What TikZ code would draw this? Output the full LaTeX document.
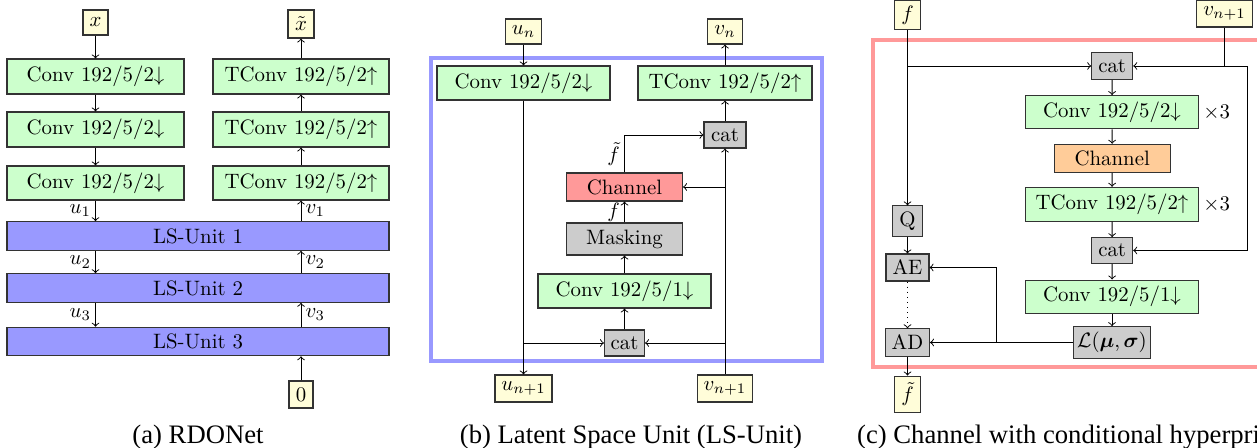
\documentclass[tikz,border=0pt]{standalone}
\usepackage{amsmath}
\usepackage{fontspec}
\newfontfamily\capfont{Liberation Serif}

% one drawing unit
\newdimen\pxu \pxu=0.48pt

\tikzset{
  box/.style={draw=black!80, line width=0.5pt, inner sep=0pt, anchor=center},
  sz/.style 2 args={minimum width=#1\pxu, minimum height=#2\pxu},
  io/.style={box, fill=yellow!15},
  convbox/.style={box, fill=green!20, sz={173}{34}},
  gbox/.style={box, fill=gray!40},
  lsbox/.style={box, fill=blue!40, sz={382}{28.5}},
  flow/.style={->, line width=0.45pt},
  lab/.style={inner sep=2pt},
  captxt/.style={inner sep=0pt, font=\capfont\fontsize{12.8}{15}\selectfont},
}

\begin{document}
\begin{tikzpicture}[x=0.48pt, y=-0.48pt]
\useasboundingbox (0,0) rectangle (1257,448);
\clip (0,0) rectangle (1257,448);

% ---------------- (a) RDONet ----------------
\node[io, sz={25}{25}] (xin) at (95.5,22.5) {$x$};
\node[io, sz={26}{28}] (xout) at (301,24) {$\tilde{x}$};
\node[convbox, sz={177}{35}] (c1) at (95.5,76.5) {Conv $192/5/2{\downarrow}$};
\node[convbox, sz={177}{35}] (c2) at (95.5,129.5) {Conv $192/5/2{\downarrow}$};
\node[convbox, sz={177}{34}] (c3) at (95.5,183) {Conv $192/5/2{\downarrow}$};
\node[convbox, sz={176}{35}] (t1) at (301,76.5) {TConv $192/5/2{\uparrow}$};
\node[convbox, sz={176}{35}] (t2) at (301,129.5) {TConv $192/5/2{\uparrow}$};
\node[convbox, sz={176}{34}] (t3) at (301,183) {TConv $192/5/2{\uparrow}$};
\node[lsbox] (ls1) at (198,236) {LS-Unit 1};
\node[lsbox] (ls2) at (198,288) {LS-Unit 2};
\node[lsbox] (ls3) at (198,341.5) {LS-Unit 3};
\node[io, sz={24}{27}] (zero) at (301,394.5) {$0$};

\draw[flow] (xin) -- (c1);
\draw[flow] (c1) -- (c2);
\draw[flow] (c2) -- (c3);
\draw[flow] (c3.south) -- node[lab, left] {$u_1$} (c3.south |- ls1.north);
\draw[flow] (c3.south |- ls1.south) -- node[lab, left] {$u_2$} (c3.south |- ls2.north);
\draw[flow] (c3.south |- ls2.south) -- node[lab, left] {$u_3$} (c3.south |- ls3.north);
\draw[flow] (zero) -- (zero.north |- ls3.south);
\draw[flow] (zero.north |- ls3.north) -- node[lab, right] {$v_3$} (zero.north |- ls2.south);
\draw[flow] (zero.north |- ls2.north) -- node[lab, right] {$v_2$} (zero.north |- ls1.south);
\draw[flow] (zero.north |- ls1.north) -- node[lab, right] {$v_1$} (t3.south);
\draw[flow] (t3) -- (t2);
\draw[flow] (t2) -- (t1);
\draw[flow] (t1) -- (xout);

\node[captxt] (capa) at (198,437) {(a) RDONet};

% ---------------- (b) LS-Unit ----------------
\draw[blue!40, line width=4\pxu] (431,57.7) rectangle (822,360.7);
\node[io, sz={36}{25}] (un) at (523.5,31.5) {$u_n$};
\node[io, sz={35}{25}] (vn) at (725,31.5) {$v_n$};
\node[convbox] (bconv) at (523.5,83) {Conv $192/5/2{\downarrow}$};
\node[convbox, sz={174}{34}] (btconv) at (725,83) {TConv $192/5/2{\uparrow}$};
\node[gbox, sz={42}{26}] (bcat1) at (725,135) {cat};
\node[box, fill=red!40, sz={116}{28}] (chan) at (624.5,187) {Channel};
\node[gbox, sz={116}{32}] (mask) at (624.5,239) {Masking};
\node[convbox] (bconv1) at (624.5,291) {Conv $192/5/1{\downarrow}$};
\node[gbox, sz={40}{26}] (bcat2) at (624.5,343) {cat};
\node[io, sz={57}{27}] (un1) at (523.5,388.5) {$u_{n+1}$};
\node[io, sz={55}{27}] (vn1) at (725,388.5) {$v_{n+1}$};

\draw[flow] (un) -- (bconv);
\draw[flow] (btconv) -- (vn);
\draw[flow] (bcat1) -- (btconv);
\draw[flow] (bconv.south) -- (un1.north);
\draw[flow] (bconv.south |- bcat2) -- (bcat2.west);
\draw[flow] (vn1.north) -- (bcat1.south);
\draw[flow] (vn1.north |- bcat2) -- (bcat2.east);
\draw[flow] (vn1.north |- chan) -- (chan.east);
\draw[flow] (bcat2) -- (bconv1);
\draw[flow] (bconv1) -- (mask);
\draw[flow] (mask) -- node[lab, left] {$f$} (chan);
\draw[flow] (chan.north) |- (bcat1.west);
\node[above left, inner sep=2pt] (ftl) at ([yshift=1pt]chan.north) {$\tilde{f}$};

\node[captxt] (capb) at (631,437) {(b) Latent Space Unit (LS-Unit)};

% ---------------- (c) Channel with hyperprior ----------------
\draw[red!40, line width=4\pxu] (872.7,39.7) rectangle (1300,367);
\node[io, sz={26.5}{29.5}] (fin) at (907.5,15) {$f$};
\node[io, sz={55.6}{27}] (vin) at (1224.5,13.5) {$v_{n+1}$};
\node[gbox, sz={41}{26.6}] (ccat1) at (1112.2,66) {cat};
\node[convbox, sz={172.6}{33.3}] (cconv) at (1112,112.3) {Conv $192/5/2{\downarrow}$};
\node (x3a) at (1216.7,112.3) {$\times 3$};
\node[box, fill=orange!40, sz={115.7}{28}] (cchan) at (1112.2,158.3) {Channel};
\node[convbox, sz={172.6}{33.7}] (ctconv) at (1112,204.2) {TConv $192/5/2{\uparrow}$};
\node (x3b) at (1216.7,204.2) {$\times 3$};
\node[gbox, sz={29.6}{30.7}] (q) at (907.5,221.3) {Q};
\node[gbox, sz={41}{25.6}] (ccat2) at (1112.2,250.5) {cat};
\node[gbox, sz={43}{27}] (ae) at (907.5,267.5) {AE};
\node[convbox, sz={172.6}{33.3}] (cconv1) at (1112,296.7) {Conv $192/5/1{\downarrow}$};
\node[gbox, sz={77.4}{31.6}] (lik) at (1112,342.5) {$\mathcal{L}(\boldsymbol{\mu},\boldsymbol{\sigma})$};
\node[gbox, sz={44}{27.3}] (ad) at (907.5,342.5) {AD};
\node[io, sz={26.4}{36.3}] (fout) at (907.5,394.2) {$\tilde{f}$};
\coordinate (loop) at (1247.3,66);
\coordinate (tap) at (996.7,342.5);

\draw[flow] (fin) -- (q);
\draw[flow] (fin.south |- ccat1) -- (ccat1.west);
\draw[flow] (vin.south) |- (ccat1.east);
\draw[flow] (vin.south |- ccat1) -- (loop) |- (ccat2.east);
\draw[flow] (ccat1) -- (cconv);
\draw[flow] (cconv) -- (cchan);
\draw[flow] (cchan) -- (ctconv);
\draw[flow] (ctconv) -- (ccat2);
\draw[flow] (ccat2) -- (cconv1);
\draw[flow] (cconv1) -- (lik);
\draw[flow] (q) -- (ae);
\draw[flow, dotted] (ae) -- (ad);
\draw[flow] (ad) -- (fout);
\draw[flow] (lik) -- (ad);
\draw[flow] (tap) |- (ae.east);

\node[captxt, anchor=west] (capc) at (856.7,437) {(c) Channel with conditional hyperprior};
\end{tikzpicture}
\end{document}
